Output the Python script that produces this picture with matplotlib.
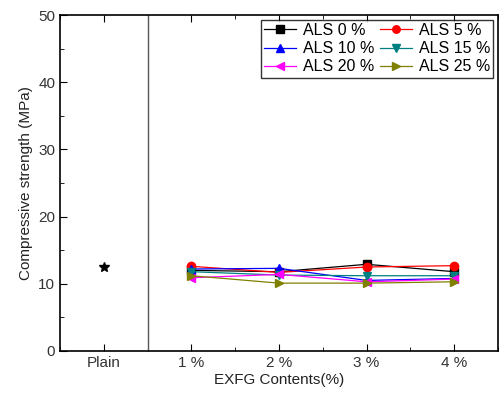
import numpy as np
import matplotlib.pyplot as plt
from matplotlib.ticker import MultipleLocator

plt.rcParams['font.family'] = ['Liberation Sans', 'DejaVu Sans']

xlabels = ['Plain', '1 %', '2 %', '3 %', '4 %']
plain = 12.5
x = [1, 2, 3, 4]
names = ['ALS 0 %', 'ALS 5 %', 'ALS 10 %', 'ALS 15 %', 'ALS 20 %', 'ALS 25 %']
als0 = [12.0, 11.8, 12.9, 11.8]
als5 = [12.6, 11.7, 12.5, 12.7]
als10 = [12.2, 12.3, 10.5, 10.8]
als15 = [11.8, 11.3, 11.2, 11.2]
als20 = [10.9, 11.4, 10.3, 10.7]
als25 = [11.2, 10.1, 10.1, 10.3]

series = [als0, als5, als10, als15, als20, als25]
colors = ['black', 'red', 'blue', '#008080', 'magenta', '#808000']
markers = ['s', 'o', '^', 'v', '<', '>']

fig = plt.figure(figsize=(4.99, 3.97), dpi=100)
ax = fig.add_axes([60/499, 1-351/397, 438/499, 336/397])

ax.plot(0, plain, marker='*', color='black', ls='none', ms=7)
lines = []
for s, c, m, n in zip(series, colors, markers, names):
    l, = ax.plot(x, s, color=c, marker=m, ms=6, lw=0.9, label=n)
    lines.append(l)

ax.axvline(0.5, color='#555555', lw=1)

ax.set_xlim(-0.5, 4.5)
ax.set_ylim(0, 50)
ax.set_xticks(range(5))
ax.set_xticklabels(xlabels)
ax.xaxis.set_minor_locator(MultipleLocator(0.5))
ax.yaxis.set_major_locator(MultipleLocator(10))
ax.yaxis.set_minor_locator(MultipleLocator(5))
ax.tick_params(which='both', direction='in', top=True, right=False, labelsize=11, labelcolor='#333333')
ax.tick_params(which='major', length=5)
ax.tick_params(which='minor', length=3)
for sp in ax.spines.values():
    sp.set_linewidth(1.2)
ax.set_xlabel('EXFG Contents(%)', fontsize=11, labelpad=2, color='#222222')
ax.set_ylabel('Compressive strength (MPa)', fontsize=11, color='#222222')

order = [0, 2, 4, 1, 3, 5]
leg = ax.legend([lines[i] for i in order], [names[i] for i in order], ncol=2, loc='upper right',
                fontsize=11.5, frameon=True, fancybox=False,
                edgecolor='black', borderpad=0.2, handlelength=2.0, handletextpad=0.4,
                columnspacing=0.4, labelspacing=0.2, borderaxespad=0.3, markerscale=0.9)
leg.get_frame().set_linewidth(1)

plt.savefig('out.png', dpi=100)
